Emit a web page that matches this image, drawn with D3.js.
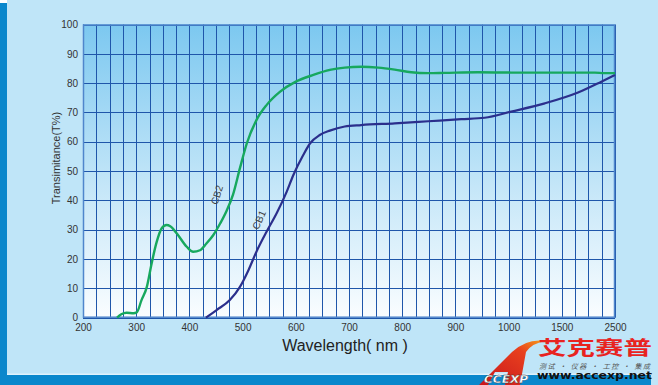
<!DOCTYPE html>
<html>
<head>
<meta charset="utf-8">
<script src="https://cdn.jsdelivr.net/npm/d3@7"></script>
<style>
  html, body { margin: 0; padding: 0; background: #bfe5f8; overflow: hidden; }
  svg { display: block; }
  .tick text { font-family: "Liberation Sans", Arial, sans-serif; font-size: 10px; fill: #333; }
</style>
</head>
<body>
<script>
/* DATA */
// CB2 curve (green)
var waveCB2  = [264, 272, 282, 295, 301, 310, 320, 329, 338, 348, 357, 364, 376, 395, 407, 420, 432, 445, 458, 470, 482, 495, 508, 526, 545, 570, 600, 633, 664, 692, 723, 755, 786, 817, 849, 880, 942, 1025, 1500, 2120, 2300, 2500];
var transCB2 = [0, 1.2, 1.7, 1.5, 1.8, 6, 10.5, 18.5, 25.5, 30.5, 31.6, 31.2, 28.8, 24.2, 22.5, 23, 25.3, 28.2, 32.2, 36.5, 42, 51, 59.5, 67.4, 72.5, 77, 80.5, 82.8, 84.5, 85.3, 85.6, 85.3, 84.6, 83.7, 83.4, 83.5, 83.7, 83.6, 83.6, 83.6, 83.4, 83.4];
// CB1 curve (navy)
var waveCB1  = [431, 451, 476, 495, 511, 526, 545, 564, 583, 595, 614, 627, 645, 664, 692, 723, 786, 849, 911, 955, 1025, 1340, 1805, 2243, 2500];
var transCB1 = [0, 2.6, 6, 10.5, 16.2, 22.5, 29.3, 35.6, 43, 48.5, 55.5, 59.5, 62.3, 63.8, 65.2, 65.7, 66.3, 67, 67.7, 68.2, 70.3, 73.1, 76.8, 80.5, 82.8];

var xTicks = [200, 300, 400, 500, 600, 700, 800, 900, 1000, 1500, 2500];
var yTicks = [0, 10, 20, 30, 40, 50, 60, 70, 80, 90, 100];

/* GLOBALS */
var W = 658, H = 385;
var plot = { left: 83, right: 615, top: 24.5, bottom: 317.7 };

function main () {
  var svg = d3.select('body').append('svg')
    .attr('width', W)
    .attr('height', H);

  // page frame
  svg.append('rect').attr('width', W).attr('height', H).attr('fill', '#bfe5f8');
  svg.append('rect').attr('x', 0).attr('y', 3).attr('width', 7).attr('height', H).attr('fill', '#0a87cc');
  svg.append('rect').attr('x', 0).attr('y', 0).attr('width', 7).attr('height', 3).attr('fill', '#ffffff');
  svg.append('rect').attr('x', 7).attr('y', 373.5).attr('width', 644).attr('height', 1.5).attr('fill', '#dff2fc');
  svg.append('rect').attr('x', 7).attr('y', 375).attr('width', 644).attr('height', 10).attr('fill', '#0a87cc');

  // X scale: piecewise linear (200-1000 wide, 1000-2500 squeezed)
  var colW = (plot.right - plot.left) / 40;
  var x = d3.scaleLinear()
    .domain([200, 1000, 1500, 2500])
    .range([plot.left, plot.left + 32 * colW, plot.left + 36 * colW, plot.right]);
  var y = d3.scaleLinear()
    .domain([0, 100])
    .range([plot.bottom, plot.top]);

  // plot background gradient
  var defs = svg.append('defs');
  var grad = defs.append('linearGradient').attr('id', 'bg')
    .attr('x1', 0).attr('y1', 0).attr('x2', 0).attr('y2', 1);
  grad.append('stop').attr('offset', '0%').attr('stop-color', '#7cc8f0');
  grad.append('stop').attr('offset', '55%').attr('stop-color', '#c4e6f8');
  grad.append('stop').attr('offset', '100%').attr('stop-color', '#fafdff');

  var logoGrad = defs.append('linearGradient').attr('id', 'logoA')
    .attr('x1', 0).attr('y1', 1).attr('x2', 1).attr('y2', 0);
  logoGrad.append('stop').attr('offset', '0%').attr('stop-color', '#c8161d');
  logoGrad.append('stop').attr('offset', '70%').attr('stop-color', '#e8401e');
  logoGrad.append('stop').attr('offset', '100%').attr('stop-color', '#f7a21b');

  svg.append('rect')
    .attr('x', plot.left).attr('y', plot.top)
    .attr('width', plot.right - plot.left).attr('height', plot.bottom - plot.top)
    .attr('fill', 'url(#bg)');

  // grid
  var gridX = d3.range(200, 1000, 25)
    .concat(d3.range(1000, 1500, 125))
    .concat(d3.range(1500, 2501, 250));
  var grid = svg.append('g').attr('class', 'grid');
  grid.selectAll('.vline')
    .data(gridX)
    .enter().append('line')
    .attr('class', 'vline')
    .attr('x1', function (d) { return Math.round(x(d)) + 0.5; })
    .attr('x2', function (d) { return Math.round(x(d)) + 0.5; })
    .attr('y1', plot.top).attr('y2', plot.bottom)
    .attr('stroke', '#1f56aa').attr('stroke-width', 1);
  grid.selectAll('.hline')
    .data(yTicks)
    .enter().append('line')
    .attr('class', 'hline')
    .attr('x1', plot.left).attr('x2', plot.right)
    .attr('y1', function (d) { return Math.round(y(d)) + 0.5; })
    .attr('y2', function (d) { return Math.round(y(d)) + 0.5; })
    .attr('stroke', '#1f56aa').attr('stroke-width', 1);
  svg.append('rect')
    .attr('x', plot.left + 0.5).attr('y', plot.top + 0.5)
    .attr('width', plot.right - plot.left - 1).attr('height', plot.bottom - plot.top - 1)
    .attr('fill', 'none').attr('stroke', '#4f86cc').attr('stroke-width', 1.5);

  // axes (labels only)
  var axisX = svg.append('g')
    .attr('transform', 'translate(0,' + plot.bottom + ')')
    .call(d3.axisBottom(x).tickValues(xTicks).tickFormat(d3.format('d')).tickSize(0).tickPadding(6));
  axisX.select('.domain').remove();

  var axisY = svg.append('g')
    .attr('transform', 'translate(' + (plot.left - 5) + ',0)')
    .call(d3.axisLeft(y).tickValues(yTicks).tickFormat(d3.format('d')).tickSize(0).tickPadding(0));
  axisY.select('.domain').remove();

  // axis titles
  svg.append('text')
    .attr('x', 345).attr('y', 351)
    .attr('text-anchor', 'middle')
    .style('font-family', '"Liberation Sans", Arial, sans-serif')
    .style('font-size', '16px').attr('fill', '#222')
    .text('Wavelength( nm )');
  svg.append('text')
    .attr('transform', 'translate(60,158) rotate(-90)')
    .attr('text-anchor', 'middle')
    .style('font-family', '"Liberation Sans", Arial, sans-serif')
    .style('font-size', '11px').attr('fill', '#333')
    .text('Transimitance(T%)');

  // curves
  var line = d3.line()
    .x(function (d) { return x(d[0]); })
    .y(function (d) { return y(d[1]); })
    .curve(d3.curveMonotoneX);

  var cb2 = d3.zip(waveCB2, transCB2);
  var cb1 = d3.zip(waveCB1, transCB1);

  svg.append('path').datum(cb1)
    .attr('d', line)
    .attr('fill', 'none').attr('stroke', '#2b2f8c').attr('stroke-width', 2.2);
  svg.append('path').datum(cb2)
    .attr('d', line)
    .attr('fill', 'none').attr('stroke', '#17a85e').attr('stroke-width', 2.4);

  // curve labels
  function curveLabel (txt, cx, cy, ang) {
    svg.append('text')
      .attr('transform', 'translate(' + cx + ',' + cy + ') rotate(' + ang + ')')
      .attr('text-anchor', 'middle')
      .attr('dy', '0.35em')
      .style('font-family', '"Liberation Sans", Arial, sans-serif')
      .style('font-size', '10px')
      .attr('fill', '#444')
      .text(txt);
  }
  curveLabel('CB2', 217, 195, -72);
  curveLabel('CB1', 259, 220, -66);

  // logo
  var logo = svg.append('g');
  logo.append('path')
    .attr('d', 'M479,385 L512,352 Q527,338 546,341 Q532,343 526,352 L520,385 L505,385 L508,372 L495,372 L488,385 Z')
    .attr('fill', 'url(#logoA)');
  logo.append('text')
    .attr('x', 484).attr('y', 383)
    .style('font-family', '"DejaVu Sans", sans-serif')
    .style('font-size', '10px').style('font-weight', 'bold').style('font-style', 'italic')
    .attr('fill', '#fff').attr('stroke', '#333').attr('stroke-width', 0.3)
    .attr('textLength', 44).attr('lengthAdjust', 'spacingAndGlyphs')
    .text('CCEXP');
  logo.append('text')
    .attr('x', 538).attr('y', 355)
    .style('font-family', '"Noto Sans CJK SC", sans-serif')
    .style('font-size', '19px').style('font-weight', 'bold')
    .attr('fill', '#e8231f')
    .attr('textLength', 114).attr('lengthAdjust', 'spacingAndGlyphs')
    .text('艾克赛普');
  logo.append('text')
    .attr('x', 539).attr('y', 368.5)
    .style('font-family', '"Noto Sans CJK SC", sans-serif')
    .style('font-size', '7px').style('font-style', 'italic')
    .attr('fill', '#555')
    .attr('textLength', 111)
    .text('测试 · 仪器 · 工控 · 集成');
  logo.append('text')
    .attr('x', 537).attr('y', 379)
    .style('font-family', '"DejaVu Sans", sans-serif')
    .style('font-size', '11px').style('font-weight', 'bold')
    .attr('fill', '#111')
    .attr('textLength', 115).attr('lengthAdjust', 'spacingAndGlyphs')
    .text('www.accexp.net');
}

window.addEventListener('load', main);
</script>
</body>
</html>
